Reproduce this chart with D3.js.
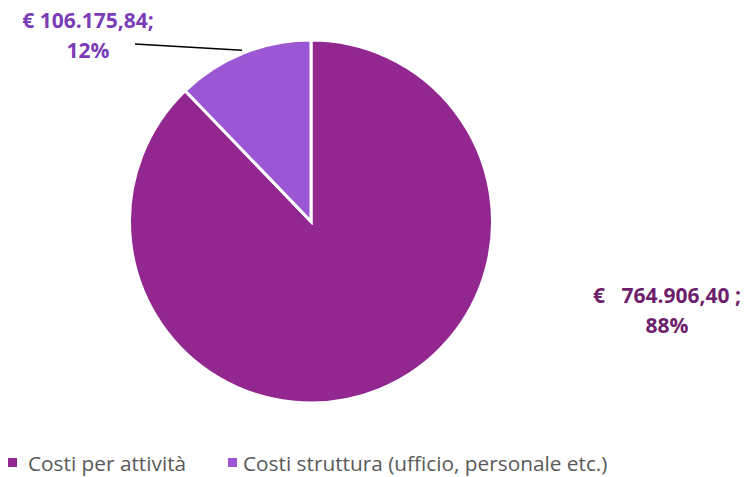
<!DOCTYPE html>
<html>
<head>
<meta charset="utf-8">
<script src="https://cdn.jsdelivr.net/npm/d3@7"></script>
<style>
  body { margin: 0; background: #fff; }
  svg { display: block; }
</style>
</head>
<body>
<svg id="chart" width="747" height="477"></svg>
<script>
// chart data
const categories = ["Costi per attività", "Costi struttura (ufficio, personale etc.)"];
const values = [764906.40, 106175.84];
const valueLabels = ["€   764.906,40 ;", "€ 106.175,84;"];
const pctLabels = ["88%", "12%"];
const sliceColors = ["#92278f", "#9b57d3"];
const labelColors = ["#6e1f6c", "#7b3db7"];

const width = 747, height = 477;
const cx = 311, cy = 221.5, radius = 181.5;
const svg = d3.select("#chart");
const font = "'Open Sans', Lato, sans-serif";

const pie = d3.pie().sort(null).value(d => d)(values);
const arc = d3.arc().innerRadius(0).outerRadius(radius);

const g = svg.append("g").attr("transform", `translate(${cx},${cy})`);

g.selectAll("path")
  .data(pie)
  .join("path")
  .attr("d", arc)
  .attr("fill", (d, i) => sliceColors[i])
  .attr("stroke", "#fff")
  .attr("stroke-width", 3)
  .attr("stroke-linejoin", "miter");

// labels (placed by hand like the original)
const labelPos = [[667, 303], [88, 28]];
pie.forEach((d, i) => {
  const t = svg.append("text")
    .attr("text-anchor", "middle")
    .style("font-family", font)
    .style("font-weight", "bold")
    .style("font-size", "21px")
    .style("white-space", "pre")
    .attr("fill", labelColors[i]);
  t.append("tspan").attr("x", labelPos[i][0]).attr("y", labelPos[i][1]).text(valueLabels[i]);
  t.append("tspan").attr("x", labelPos[i][0]).attr("y", labelPos[i][1] + 30).text(pctLabels[i]);
});

// leader line for small slice
const small = pie[1];
const mid = (small.startAngle + small.endAngle) / 2;
const ex = cx + Math.sin(mid) * (radius + 3);
const ey = cy - Math.cos(mid) * (radius + 3);
svg.append("line")
  .attr("x1", 135).attr("y1", 44)
  .attr("x2", ex).attr("y2", ey)
  .attr("stroke", "#000")
  .attr("stroke-width", 1.5);

// legend
const legendX = [8, 228];
const legendTextX = [28, 243];
const legend = svg.append("g");
categories.forEach((c, i) => {
  legend.append("rect")
    .attr("x", legendX[i]).attr("y", 458)
    .attr("width", 9).attr("height", 9)
    .attr("fill", sliceColors[i]);
  legend.append("text")
    .attr("x", legendTextX[i]).attr("y", 471)
    .style("font-family", font)
    .style("font-size", "20.8px")
    .attr("fill", "#595959")
    .text(c);
});
</script>
</body>
</html>
